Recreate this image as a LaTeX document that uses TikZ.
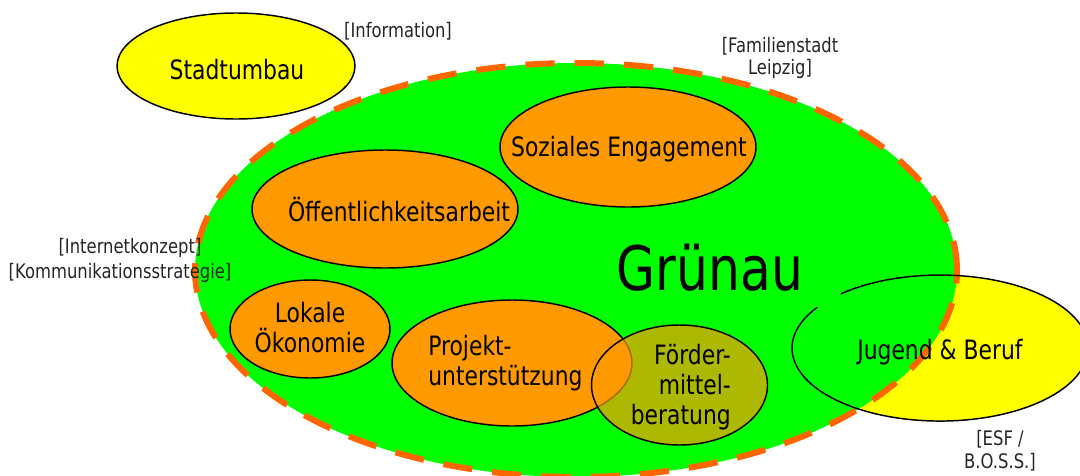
\documentclass[tikz,border=0pt]{standalone}
\usepackage{fontspec}
\setmainfont{DejaVu Sans}[FakeStretch=0.82]
\usetikzlibrary{shapes.geometric}
\definecolor{cgreen}{RGB}{0,255,0}
\definecolor{corange}{RGB}{255,153,0}
\definecolor{cyellow}{RGB}{255,255,0}
\definecolor{cdash}{RGB}{255,102,0}
\definecolor{cfoerder}{RGB}{255,153,0}
\begin{document}
\begin{tikzpicture}[x=0.75pt,y=-0.75pt,
  blob/.style={ellipse, inner sep=0pt, draw=black, line width=1.1pt},
  lbl/.style={font=\fontsize{20}{22.5}\selectfont, inner sep=0pt},
  note/.style={font=\fontsize{15}{17}\selectfont, inner sep=0pt, text=black!85}]
\useasboundingbox (0,0) rectangle (1080,475);
\clip (0,0) rectangle (1080,475);
% Jugend & Beruf fill (under the green area)
\node[ellipse, inner sep=0pt, fill=cyellow, minimum width=222pt, minimum height=109.5pt] (jugend) at (940,348) {};
% Gruenau
\node[ellipse, inner sep=0pt, fill=cgreen, draw=cdash, line width=4.5pt, dash pattern=on 22pt off 15pt, minimum width=571.5pt, minimum height=310.5pt] (gruenau) at (576,270) {};
% Jugend outline on top
\draw[line width=1.1pt] (841,293.8) arc[start angle=228, end angle=574, x radius=148, y radius=73];
% Stadtumbau
\node[blob, fill=cyellow, minimum width=178.5pt, minimum height=79.5pt] (stadt) at (236,66) {};
% orange topics
\node[blob, fill=corange, minimum width=192pt, minimum height=90pt] (soz) at (628,147) {};
\node[blob, fill=corange, minimum width=199.5pt, minimum height=88.5pt] (oef) at (385,209) {};
\node[blob, fill=corange, minimum width=120pt, minimum height=73.5pt] (lok) at (310,329) {};
\node[blob, fill=corange, minimum width=180pt, minimum height=94.5pt] (proj) at (512,363) {};
\node[blob, fill=cfoerder, fill opacity=0.68, minimum width=132pt, minimum height=90pt] (foe) at (679.5,385) {};
% texts
\node[lbl] (t-stadt) at (237,70) {Stadtumbau};
\node[note] (n-info) at (398,31) {[Information]};
\node[note, align=center] (n-fam) at (780,58) {[Familienstadt\\Leipzig]};
\node[note] (n-int) at (130,248) {[Internetkonzept]};
\node[note] (n-kom) at (120,273) {[Kommunikationsstrategie]};
\node[note, align=center] (n-esf) at (1000,451) {[ESF /\\B.O.S.S.]};
\node[lbl] (t-soz) at (629,149) {Soziales Engagement};
\node[lbl] (t-oef) at (399,210) {Öffentlichkeitsarbeit};
\node[lbl, align=center] (t-lok) at (310,328) {Lokale\\Ökonomie};
\node[lbl, align=left, anchor=west] (t-proj) at (428,363) {Projekt-\\unterstützung};
\node[lbl, align=right, anchor=east] (t-foe) at (731,387) {Förder-\\mittel-\\beratung};
\node[font=\fontsize{46}{50}\selectfont, inner sep=0pt] (t-gr) at (710,268) {Grünau};
\node[lbl] (t-jb) at (940,352) {Jugend \& Beruf};
\end{tikzpicture}
\end{document}
